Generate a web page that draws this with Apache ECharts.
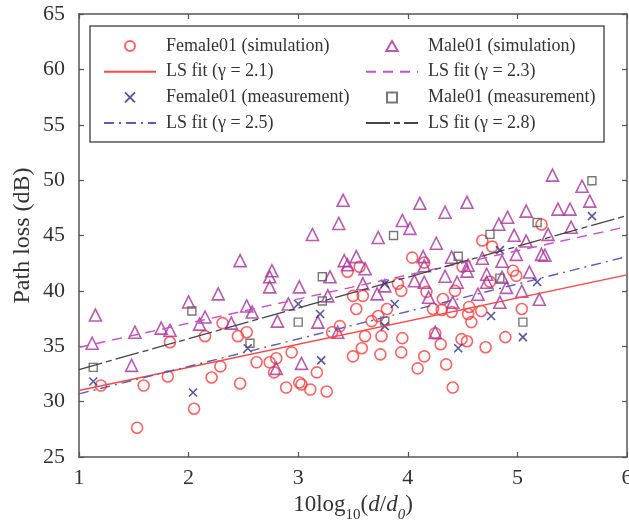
<!DOCTYPE html>
<html>
<head>
<meta charset="utf-8">
<script src="https://cdn.jsdelivr.net/npm/echarts@6/dist/echarts.min.js"></script>
<style>
html,body{margin:0;padding:0;background:#fff;}
#chart{width:629px;height:520px;}
</style>
</head>
<body>
<div id="chart"></div>
<script>
// ---- data ----
const femaleSim = [
  [1.20,31.45],[1.59,31.45],[1.81,32.27],[1.83,35.36],[2.15,35.91],[2.29,33.18],[2.21,32.18],
  [2.47,31.64],[2.45,35.91],[2.53,36.27],[2.62,33.55],[2.05,29.36],[1.53,27.64],[2.31,37.09],
  [2.74,33.55],[2.78,32.64],[2.80,33.91],[2.94,34.45],[2.89,31.27],[3.01,31.73],[3.03,31.55],
  [3.11,31.09],[3.26,30.91],[3.17,32.64],[3.50,34.09],[3.58,34.82],[3.61,35.91],[3.75,34.27],
  [3.76,35.91],[3.95,35.73],[3.94,34.45],[4.09,33.00],[4.15,34.09],[4.25,36.18],[4.30,35.18],
  [4.35,33.36],[4.41,31.27],[4.49,35.64],[4.54,35.45],[4.71,34.91],[4.89,35.82],[4.04,43.00],
  [4.15,42.55],[3.45,41.73],[3.56,42.18],[3.50,39.55],[3.59,39.55],[3.53,38.36],[3.73,37.73],
  [3.67,37.27],[3.38,36.82],[3.31,36.27],[3.81,38.36],[3.91,40.64],[3.94,40.00],[4.17,39.91],
  [5.22,46.00],[4.68,44.55],[4.77,44.00],[4.50,42.18],[4.75,40.82],[4.96,41.82],[4.99,41.36],
  [4.43,40.00],[4.32,39.27],[4.23,38.36],[4.31,38.27],[4.40,38.09],[4.56,38.55],[4.55,37.91],
  [4.67,38.18],[4.58,37.18],[5.04,38.36]
];
const maleSim = [
  [1.12,35.27],[1.15,37.82],[1.48,33.27],[1.51,36.27],[1.75,36.64],[1.83,36.45],[2.00,39.00],
  [2.27,39.73],[2.47,42.73],[2.53,38.64],[2.58,38.09],[2.15,37.64],[2.10,37.00],[2.39,37.09],
  [3.41,48.18],[4.11,47.91],[3.37,46.09],[3.13,45.09],[3.73,44.82],[3.95,46.36],[4.02,45.64],
  [2.76,41.82],[2.74,41.27],[2.74,40.36],[3.01,40.36],[3.29,41.27],[3.42,42.73],[3.53,43.09],
  [3.45,42.36],[3.61,42.00],[4.14,43.09],[4.15,42.27],[4.06,40.91],[3.59,40.64],[3.72,39.73],
  [3.79,40.45],[2.81,37.27],[3.18,37.18],[3.27,39.55],[3.36,36.27],[2.91,38.82],[2.80,33.00],
  [3.03,33.45],[5.32,50.45],[5.59,49.45],[5.66,48.10],[4.54,48.00],[4.34,47.10],[5.08,47.20],
  [5.37,47.38],[5.48,47.38],[4.91,46.65],[4.83,46.02],[4.97,45.02],[5.28,45.10],[5.49,45.75],
  [4.26,44.30],[5.08,44.50],[4.99,43.30],[5.22,43.30],[5.25,43.22],[4.40,43.04],[4.55,42.32],
  [4.54,41.78],[4.86,42.68],[4.68,42.95],[4.34,41.32],[4.15,40.78],[4.45,40.78],[4.72,41.50],
  [4.86,41.23],[4.90,40.32],[5.11,41.70],[5.04,39.97],[4.72,40.78],[4.64,39.70],[4.84,38.97],
  [5.20,39.24],[4.41,38.97],[4.19,39.42],[4.25,36.25]
];
const femaleMeas = [
  [1.13,31.82],[2.04,30.82],[2.54,34.82],[3.00,38.82],[3.20,37.91],[3.79,40.64],[3.88,38.82],
  [3.79,36.82],[3.21,33.73],[4.46,34.82],[5.05,35.82],[4.84,43.68],[5.18,40.80],[4.76,37.73],
  [5.68,46.75]
];
const maleMeas = [
  [1.13,33.09],[2.03,38.18],[2.56,35.27],[3.00,37.18],[3.22,39.09],[3.22,41.27],[3.79,37.27],
  [3.87,45.00],[4.46,43.12],[4.75,45.10],[4.84,41.15],[5.18,46.18],[5.05,37.18],[5.68,49.95]
];
const fitX = [1, 6];
const fitFemaleSim = [31.0, 41.45];
const fitMaleSim = [34.9, 45.8];
const fitFemaleMeas = [30.7, 43.1];
const fitMaleMeas = [32.9, 46.8];

const xTicks = {min: 1, max: 6, interval: 1};
const yTicks = {min: 25, max: 65, interval: 5};

const names = {
  fs: 'Female01 (simulation)', ms: 'Male01 (simulation)',
  f21: 'LS fit (γ = 2.1)', f23: 'LS fit (γ = 2.3)',
  fm: 'Female01 (measurement)', mm: 'Male01 (measurement)',
  f25: 'LS fit (γ = 2.5)', f28: 'LS fit (γ = 2.8)'
};

// ---- chart ----
const serif = '"Liberation Serif", "DejaVu Serif", serif';
const chart = echarts.init(document.getElementById('chart'), null, {renderer: 'canvas'});
const fitData = ys => fitX.map((x, i) => [x, ys[i]]);
const axisLine = {show: true, onZero: false, lineStyle: {color: '#555', width: 1.5}};
const axisTick = {show: true, inside: true, length: 5, lineStyle: {color: '#555', width: 1.2}};

const ICON_X = 'path://M0,0L10,10M0,10L10,0';
const ICON_TRI = 'path://M5,0L10,8.66L0,8.66Z';
const ICON_SQ = 'path://M0,0L10,0L10,10L0,10Z';
const lineOnly = name => ({name, itemStyle: {color: 'rgba(0,0,0,0)', borderColor: 'rgba(0,0,0,0)', borderWidth: 0}});

const legendCommon = {
  orient: 'vertical', top: 37, padding: 0, itemWidth: 52, itemHeight: 10, itemGap: 7.7,
  symbolKeepAspect: true,
  textStyle: {fontFamily: serif, fontSize: 18, color: '#333', lineHeight: 18, padding: [0, 0, 0, 5]},
  selectedMode: false
};

chart.setOption({
  animation: false,
  backgroundColor: '#fff',
  grid: {left: 79, right: 2, top: 14, bottom: 63, containLabel: false, outerBoundsMode: 'none'},
  xAxis: [
    Object.assign({type: 'value', position: 'bottom', axisLine, axisTick, splitLine: {show: false},
      axisLabel: {fontFamily: serif, fontSize: 22, color: '#333', margin: 10},
      name: '10log{sub|10}({it|d}/{it|d}{itsub|0})', nameLocation: 'middle', nameGap: 29,
      nameMoveOverlap: false,
      nameTextStyle: {fontFamily: serif, fontSize: 23, color: '#333',
        rich: {
          sub: {fontFamily: serif, fontSize: 15, color: '#333', verticalAlign: 'bottom', padding: [22, 0, 0, 0]},
          it: {fontFamily: serif, fontSize: 23, fontStyle: 'italic', color: '#333'},
          itsub: {fontFamily: serif, fontSize: 15, fontStyle: 'italic', color: '#333', verticalAlign: 'bottom', padding: [22, 0, 0, 0]}
        }}
    }, xTicks),
    Object.assign({type: 'value', position: 'top', axisLine, axisTick, splitLine: {show: false},
      axisLabel: {show: false}}, xTicks)
  ],
  yAxis: [
    Object.assign({type: 'value', position: 'left', axisLine, axisTick, splitLine: {show: false},
      axisLabel: {fontFamily: serif, fontSize: 22, color: '#333', margin: 14},
      name: 'Path loss (dB)', nameLocation: 'middle', nameGap: 44, nameMoveOverlap: false,
      nameTextStyle: {fontFamily: serif, fontSize: 24, color: '#333'}
    }, yTicks),
    Object.assign({type: 'value', position: 'right', axisLine, axisTick, splitLine: {show: false},
      axisLabel: {show: false}}, yTicks)
  ],
  legend: [
    Object.assign({left: 103, data: [
      {name: names.fs, icon: 'circle'}, lineOnly(names.f21),
      {name: names.fm, icon: ICON_X}, lineOnly(names.f25)
    ]}, legendCommon),
    Object.assign({left: 365, data: [
      {name: names.ms, icon: ICON_TRI}, lineOnly(names.f23),
      {name: names.mm, icon: ICON_SQ}, lineOnly(names.f28)
    ]}, legendCommon)
  ],
  graphic: [{
    type: 'rect', z: 3, silent: true,
    shape: {x: 90, y: 26, width: 514, height: 116},
    style: {fill: 'rgba(0,0,0,0)', stroke: '#555', lineWidth: 1.5}
  }],
  series: [
    {name: names.fs, type: 'scatter', data: femaleSim, symbol: 'circle', symbolSize: 11,
      itemStyle: {color: 'rgba(0,0,0,0)', borderColor: '#ff3c3c', borderWidth: 1.6}},
    {name: names.ms, type: 'scatter', data: maleSim, symbol: 'triangle', symbolSize: 12,
      itemStyle: {color: 'rgba(0,0,0,0)', borderColor: '#a8309f', borderWidth: 1.6}},
    {name: names.fm, type: 'scatter', data: femaleMeas, symbol: ICON_X, symbolSize: 8,
      itemStyle: {color: 'rgba(0,0,0,0)', borderColor: '#2a2a8c', borderWidth: 1.6}},
    {name: names.mm, type: 'scatter', data: maleMeas, symbol: 'rect', symbolSize: 8,
      itemStyle: {color: 'rgba(0,0,0,0)', borderColor: '#555', borderWidth: 1.4}},
    {name: names.f21, type: 'line', data: fitData(fitFemaleSim), symbol: 'none',
      lineStyle: {color: '#ff4545', width: 1.4, type: 'solid'}, itemStyle: {color: '#ff4545'}},
    {name: names.f23, type: 'line', data: fitData(fitMaleSim), symbol: 'none',
      lineStyle: {color: '#c84fc8', width: 1.4, type: [10, 7]}, itemStyle: {color: '#c84fc8'}},
    {name: names.f25, type: 'line', data: fitData(fitFemaleMeas), symbol: 'none',
      lineStyle: {color: '#5a5ab8', width: 1.4, type: [10, 5, 2, 5]}, itemStyle: {color: '#5a5ab8'}},
    {name: names.f28, type: 'line', data: fitData(fitMaleMeas), symbol: 'none',
      lineStyle: {color: '#444', width: 1.3, type: [24, 4, 6, 4]}, itemStyle: {color: '#444'}}
  ]
});
</script>
</body>
</html>
